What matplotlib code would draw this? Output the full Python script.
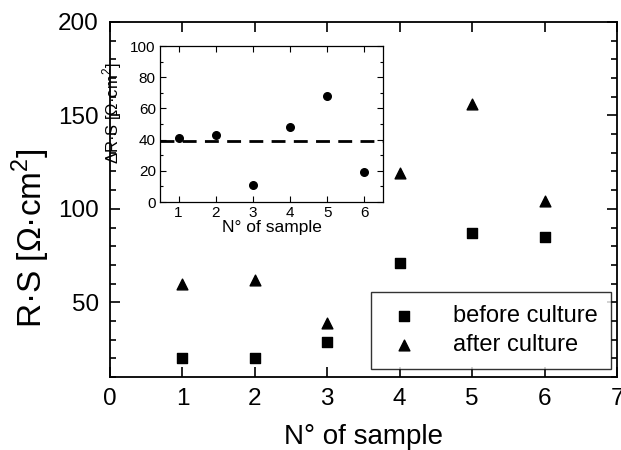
import matplotlib
matplotlib.use("Agg")
import matplotlib.pyplot as plt
from matplotlib.ticker import MultipleLocator

plt.rcParams['font.family'] = ['Liberation Sans', 'DejaVu Sans']
plt.rcParams['mathtext.fontset'] = 'custom'
plt.rcParams['mathtext.rm'] = 'Liberation Sans'

samples = [1, 2, 3, 4, 5, 6]
before_culture = [20, 20, 29, 71, 87, 85]
after_culture = [60, 62, 39, 119, 156, 104]
delta_rs = [41, 43, 11, 48, 68, 19]
mean_delta = 39

fig = plt.figure(figsize=(6.21, 4.5), dpi=100)
ax = fig.add_axes([110/621, 1-377/450, (617-110)/621, (377-22)/450])
ax.scatter(samples, before_culture, marker='s', s=45, color='black', label='before culture')
ax.scatter(samples, after_culture, marker='^', s=60, color='black', label='after culture')
ax.set_xlim(0, 7)
ax.set_ylim(10, 200)
ax.xaxis.set_major_locator(MultipleLocator(1))
ax.yaxis.set_major_locator(MultipleLocator(50))
ax.yaxis.set_minor_locator(MultipleLocator(10))
ax.tick_params(which='both', direction='in', top=True, right=True, labelsize=17.5, width=1.2)
ax.tick_params(which='major', length=7, pad=8)
ax.tick_params(which='minor', length=4)
for s in ax.spines.values():
    s.set_linewidth(1.3)
ax.set_xlabel('N° of sample', fontsize=20, labelpad=10)
ax.set_ylabel('R·S [Ω·cm$^2$]', fontsize=24)
ax.yaxis.set_label_coords(-0.115, 0.39)
leg = ax.legend(loc='lower right', bbox_to_anchor=(611/621, 1-369/450), bbox_transform=fig.transFigure,
                fontsize=17, frameon=True, fancybox=False, edgecolor='black',
                handletextpad=1.25, borderpad=0.55, labelspacing=0.3, borderaxespad=0,
                handlelength=1.7)
leg.get_frame().set_linewidth(1.0)

ins = fig.add_axes([160/621, 1-202/450, (383-160)/621, (202-46)/450])
ins.scatter(samples, delta_rs, marker='o', s=30, color='black')
ins.axhline(mean_delta, color='black', linestyle=(0, (5, 3)), linewidth=2)
ins.set_xlim(0.5, 6.5)
ins.set_ylim(0, 100)
ins.xaxis.set_major_locator(MultipleLocator(1))
ins.yaxis.set_major_locator(MultipleLocator(20))
ins.yaxis.set_minor_locator(MultipleLocator(10))
ins.tick_params(which='both', direction='in', top=True, right=True, labelsize=11, width=0.8)
ins.tick_params(which='major', length=4, pad=3)
ins.tick_params(which='minor', length=2)
for s in ins.spines.values():
    s.set_linewidth(0.9)
ins.set_xlabel('N° of sample', fontsize=12.5, labelpad=0)
ins.set_ylabel('ΔR·S [Ω·cm$^2$]', fontsize=12)
ins.yaxis.set_label_coords(-0.16, 0.57)

fig.savefig('out.png', dpi=100)
